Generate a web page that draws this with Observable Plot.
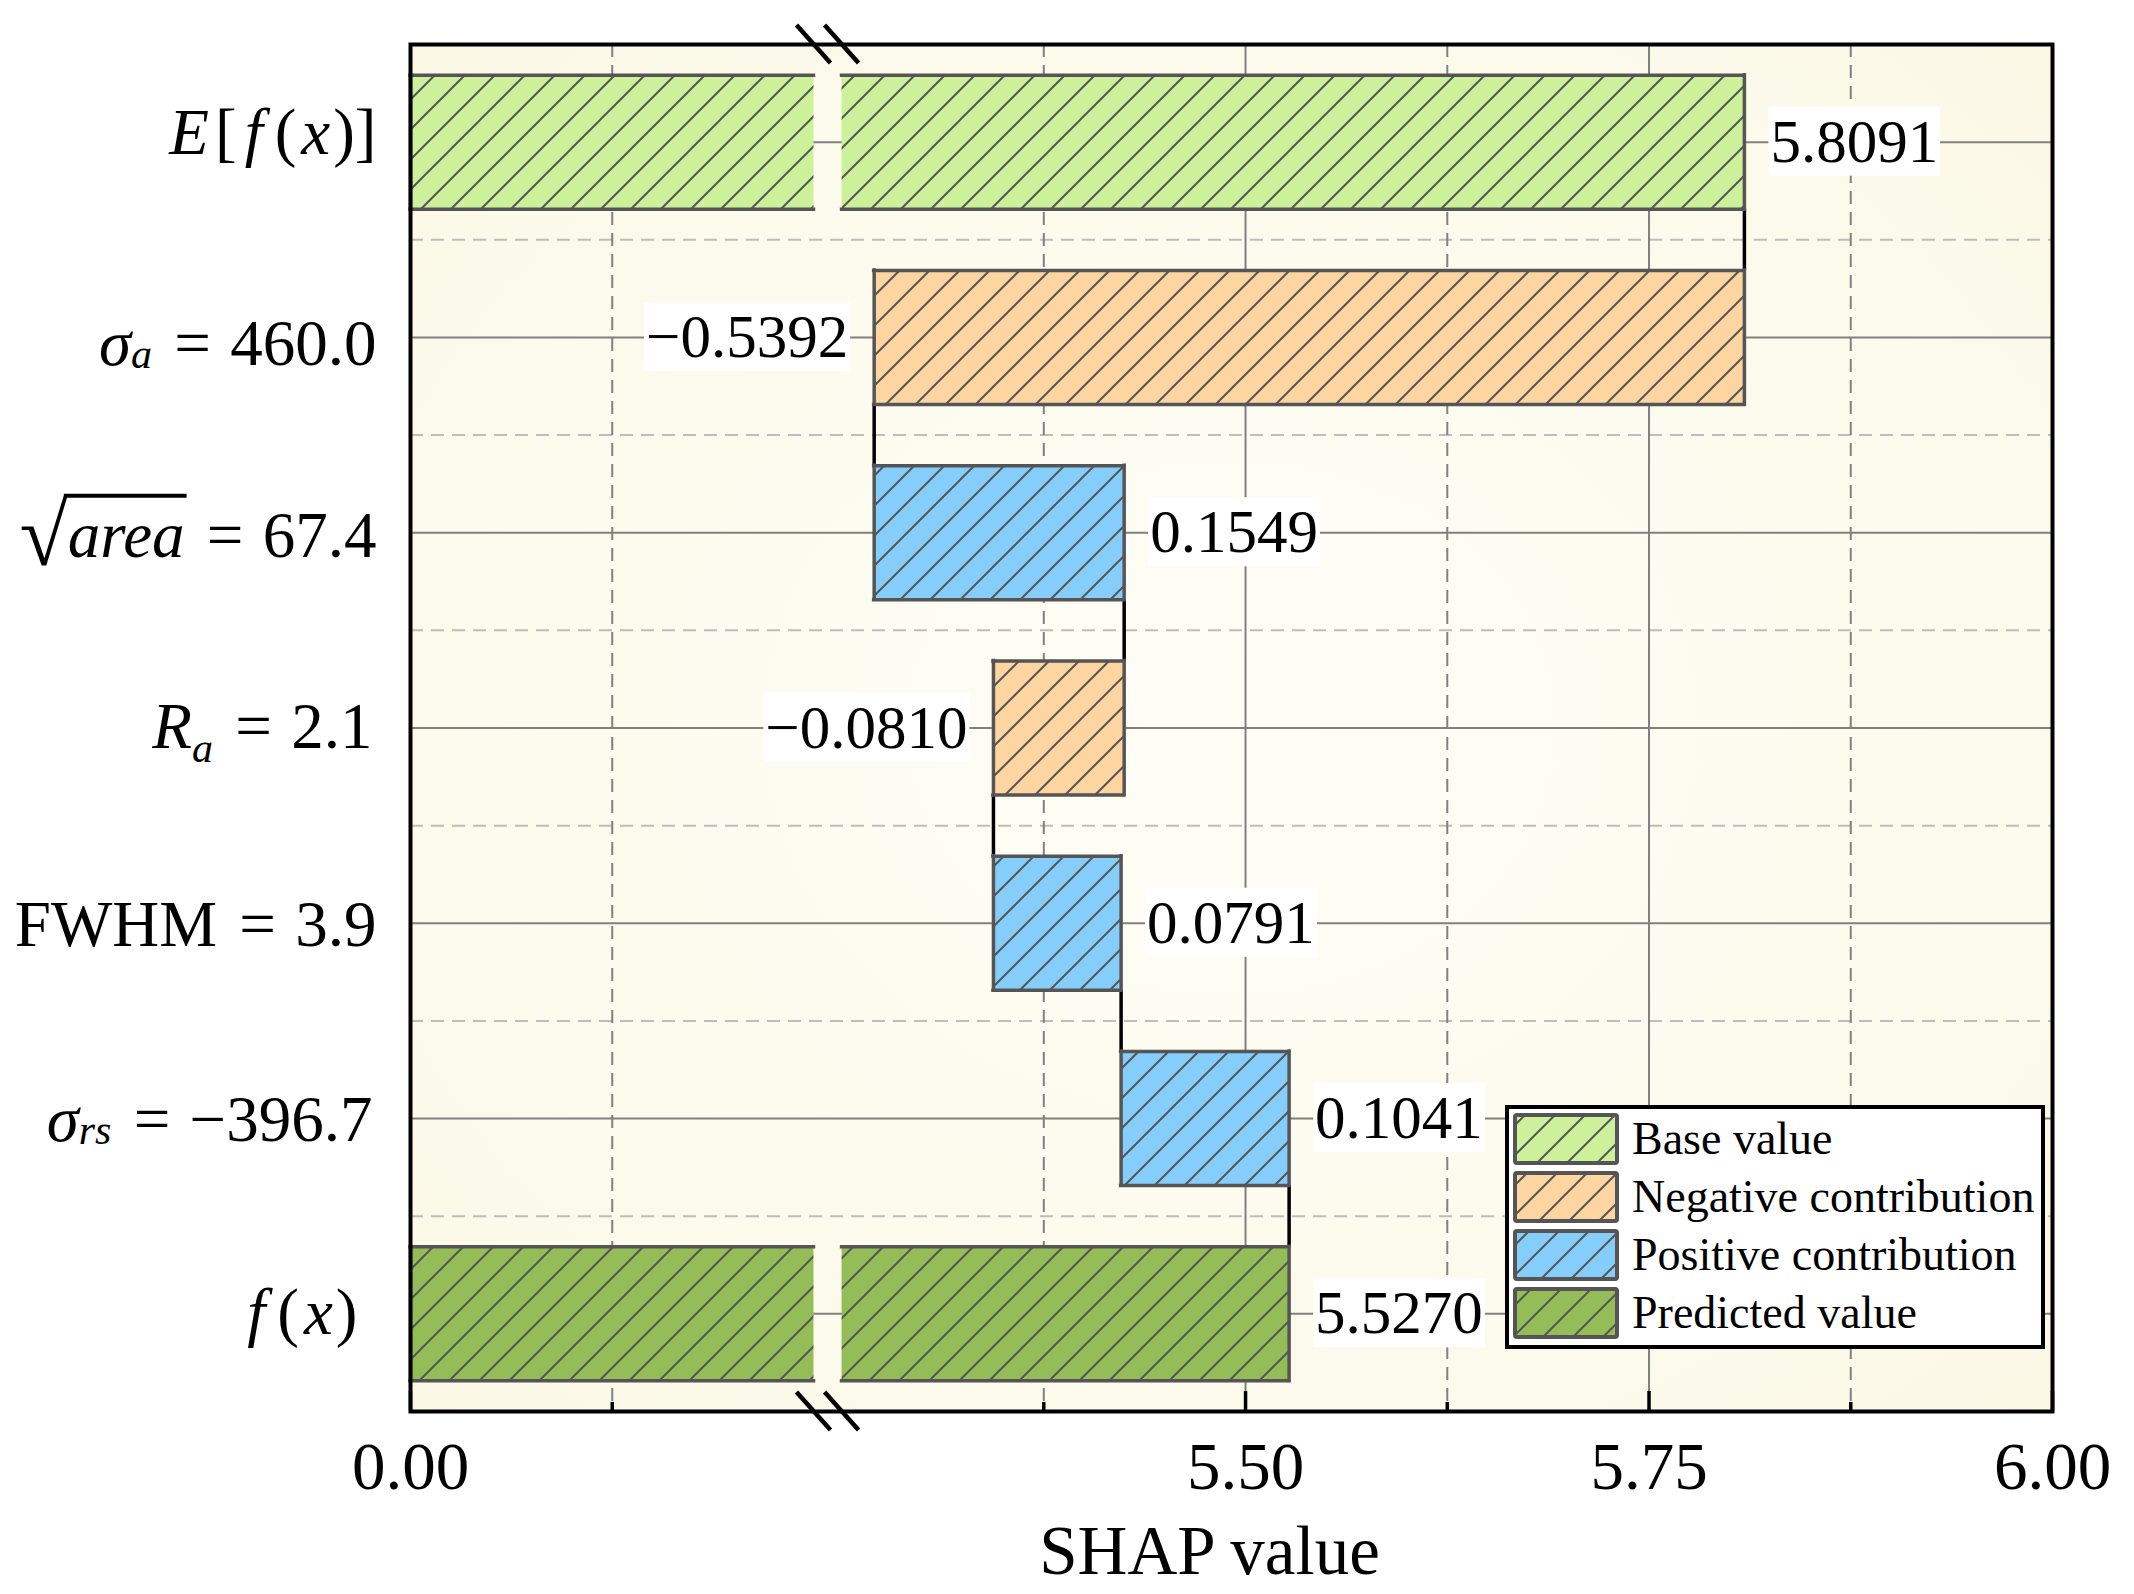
<!DOCTYPE html>
<html><head><meta charset="utf-8">
<script src="https://cdn.jsdelivr.net/npm/d3@7"></script>
<script src="https://cdn.jsdelivr.net/npm/@observablehq/plot@0.6"></script>
<style>
html,body{margin:0;padding:0;background:#fff;}
#chart{width:2134px;height:1594px;}
</style></head><body><div id="chart"></div>
<script>
// ---------------- data ----------------
const features = ["E[f(x)]", "σa = 460.0", "√area = 67.4", "Ra = 2.1", "FWHM = 3.9", "σrs = −396.7", "f(x)"];
const shapValues = [5.8091, -0.5392, 0.1549, -0.0810, 0.0791, 0.1041, 5.5270];
const barKinds = ["base", "neg", "pos", "neg", "pos", "pos", "pred"];
const legendLabels = ["Base value", "Negative contribution", "Positive contribution", "Predicted value"];
const legendKinds = ["base", "neg", "pos", "pred"];
const kindColors = {base: "#cdf19b", neg: "#fdd5a0", pos: "#85cefc", pred: "#94bd58"};
const xMajorTicks = [0, 5.50, 5.75, 6.00];
const xMinorTicks = [0.125, 5.375, 5.625, 5.875];
const xLeftRange = [0, 0.25];
const xRightRange = [5.25, 6.00];
const xLabel = "SHAP value";
// rich-text pieces of the feature labels (i = italic, r = roman, s = subscript, s2 = low subscript, rad = radical, ov = overlined italic)
const featureLabelParts = [
  [["E", "i"], ["[", "r"], ["f", "i"], ["(", "r"], ["x", "i"], [")]", "r"]],
  [["σ", "i"], ["a", "s"], [" = 460.0", "r"]],
  [["√", "rad"], ["area", "ov"], [" = 67.4", "r"]],
  [["R", "i"], ["a", "s2"], [" = 2.1", "r"]],
  [["FWHM = 3.9", "r"]],
  [["σ", "i"], ["rs", "s"], [" = −396.7", "r"]],
  [["f", "i"], ["(", "r"], ["x", "i"], [")", "r"]]
];

// ---------------- layout constants ----------------
const FONT = "'Liberation Serif','Times New Roman',serif";
const W = 2134, H = 1594, mL = 410, mR = 82, mT = 44, mB = 183;
const frameH = H - mT - mB;
const HALF = 0.343;            // half bar thickness (band units)
const GAP = 0.0174;            // width of the axis break (display units)
const labelBaselineShift = [12, 28, 24, 20, 23, 22, 20];
const labelRightShift = [0, 0, 0, -4, 0, -4, -19];
const mathSpacing = {"[": 6, "f": 8, "(": 12, "x": 5, ")": 3, ")]": 3};

// broken axis: left part [0,0.25] is placed just before the right part [5.25,6]
const leftOffset = xRightRange[0] - GAP - xLeftRange[1];
const toX = v => (v <= xLeftRange[1] ? leftOffset + v : v);

// ---------------- derived tables ----------------
const rows = [];
let running = 0;
features.forEach((name, i) => {
  const v = shapValues[i], kind = barKinds[i];
  let start, end;
  if (kind === "base" || kind === "pred") { start = 0; end = v; }
  else { start = running; end = running + v; }
  if (kind !== "pred") running = end;
  const label = (v < 0 ? "−" : "") + Math.abs(v).toFixed(4);
  rows.push({i, name, v, kind, start, end, lo: Math.min(start, end), hi: Math.max(start, end), label});
});

const pieces = [];
for (const r of rows) {
  if (r.lo === 0 && r.hi > xRightRange[0]) {
    pieces.push({i: r.i, kind: r.kind, a: r.lo, b: xLeftRange[1], leftEdge: true, rightEdge: false});
    pieces.push({i: r.i, kind: r.kind, a: xRightRange[0], b: r.hi, leftEdge: false, rightEdge: true});
  } else {
    pieces.push({i: r.i, kind: r.kind, a: r.lo, b: r.hi, leftEdge: true, rightEdge: true});
  }
}
const vEdges = [];
for (const p of pieces) {
  if (p.leftEdge) vEdges.push({i: p.i, x: p.a});
  if (p.rightEdge) vEdges.push({i: p.i, x: p.b});
}
const connectors = rows.slice(0, -1).map(r => ({i: r.i, x: r.end}));

const posLabels = rows.filter(r => r.v >= 0);
const negLabels = rows.filter(r => r.v < 0);

const edgeStyle = {stroke: "#555555", strokeWidth: 3.5, strokeLinecap: "square"};

const plot = Plot.plot({
  width: W, height: H,
  marginLeft: mL, marginRight: mR, marginTop: mT, marginBottom: mB,
  x: {domain: [toX(0), xRightRange[1]], axis: null},
  y: {domain: [-0.5, features.length - 0.5], reverse: true, axis: null},
  color: {type: "identity"},
  style: {fontFamily: FONT, fontSize: "66px", background: "white", color: "black"},
  marks: [
    Plot.frame({fill: "url(#bgGrad)"}),
    // grid
    Plot.ruleY(d3.range(features.length), {stroke: "#808080", strokeWidth: 2}),
    Plot.ruleY(d3.range(features.length - 1).map(i => i + 0.5), {stroke: "#bdbdbd", strokeWidth: 2, strokeDasharray: "13,8"}),
    Plot.ruleX(xMajorTicks.slice(1, -1), {x: toX, stroke: "#808080", strokeWidth: 2}),
    Plot.ruleX(xMinorTicks, {x: toX, stroke: "#808080", strokeWidth: 2, strokeDasharray: "13,8"}),
    // waterfall connectors
    Plot.ruleX(connectors, {x: d => toX(d.x), y1: d => d.i + HALF, y2: d => d.i + 1 - HALF, stroke: "black", strokeWidth: 3.5}),
    // bars
    Plot.rect(pieces, {x1: d => toX(d.a), x2: d => toX(d.b), y1: d => d.i - HALF, y2: d => d.i + HALF, fill: d => `url(#hatch-${d.kind})`}),
    Plot.ruleY(pieces, {y: d => d.i - HALF, x1: d => toX(d.a), x2: d => toX(d.b), ...edgeStyle}),
    Plot.ruleY(pieces, {y: d => d.i + HALF, x1: d => toX(d.a), x2: d => toX(d.b), ...edgeStyle}),
    Plot.ruleX(vEdges, {x: d => toX(d.x), y1: d => d.i - HALF, y2: d => d.i + HALF, ...edgeStyle}),
    // value labels
    Plot.text(posLabels, {x: d => toX(d.hi), y: "i", text: "label", textAnchor: "start", dx: 26, fontSize: 61, fontFamily: FONT}),
    Plot.text(negLabels, {x: d => toX(d.lo), y: "i", text: "label", textAnchor: "end", dx: -26, fontSize: 61, fontFamily: FONT}),
    // inward ticks
    Plot.ruleX(xMajorTicks, {x: toX, insetTop: frameH - 20, stroke: "black", strokeWidth: 3.5}),
    Plot.ruleX(xMinorTicks, {x: toX, insetTop: frameH - 9, stroke: "black", strokeWidth: 3.5}),
    Plot.frame({stroke: "black", strokeWidth: 4}),
    // tick labels & axis label
    Plot.text(xMajorTicks, {x: toX, frameAnchor: "bottom", lineAnchor: "bottom", dy: 77, text: v => v.toFixed(2), fontSize: 67, fontFamily: FONT}),
    Plot.text([xLabel], {frameAnchor: "bottom", lineAnchor: "bottom", dy: 162, dx: -22, fontSize: 69, fontFamily: FONT}),
    // feature labels
    Plot.text(rows, {y: "i", text: "name", frameAnchor: "left", textAnchor: "end", lineAnchor: "bottom", dx: -34, fontSize: 65, fontFamily: FONT})
  ]
});
document.getElementById("chart").appendChild(plot);

const svg = d3.select(plot);
const NS = "http://www.w3.org/2000/svg";
const defs = svg.insert("defs", ":first-child");
for (const k of Object.keys(kindColors)) {
  const p = defs.append("pattern").attr("id", `hatch-${k}`).attr("patternUnits", "userSpaceOnUse").attr("width", 30).attr("height", 30);
  p.append("rect").attr("width", 30).attr("height", 30).attr("fill", kindColors[k]);
  p.append("path").attr("d", "M-7.5,7.5L7.5,-7.5M0,30L30,0M22.5,37.5L37.5,22.5").attr("stroke", "#555555").attr("stroke-width", 2);
}
const grad = defs.append("radialGradient").attr("id", "bgGrad").attr("cx", "50%").attr("cy", "50%").attr("r", "70%");
grad.append("stop").attr("offset", "0%").attr("stop-color", "#fefef7");
grad.append("stop").attr("offset", "100%").attr("stop-color", "#fbf8e6");

// white boxes behind value labels
const labelSet = new Set(rows.map(r => r.label));
svg.selectAll("text").each(function() {
  if (!labelSet.has(this.textContent)) return;
  const b = this.getBBox();
  const rect = document.createElementNS(NS, "rect");
  rect.setAttribute("x", b.x - 2); rect.setAttribute("y", b.y - 1);
  rect.setAttribute("width", b.width + 4); rect.setAttribute("height", b.height + 2);
  rect.setAttribute("fill", "white");
  if (this.getAttribute("transform")) rect.setAttribute("transform", this.getAttribute("transform"));
  this.parentNode.insertBefore(rect, this);
});

// rich feature labels
const featIndex = new Map(features.map((f, i) => [f, i]));
svg.selectAll("text").each(function() {
  const idx = featIndex.get(this.textContent);
  if (idx === undefined) return;
  const parts = featureLabelParts[idx];
  const shift = labelBaselineShift[idx];
  this.textContent = "";
  this.setAttribute("font-family", FONT);
  this.removeAttribute("dy");
  this.setAttribute("dx", labelRightShift[idx]);
  let cur = 0;
  const add = (s, attrs, dx) => {
    const t = document.createElementNS(NS, "tspan");
    t.textContent = s;
    for (const [k, v] of Object.entries(attrs)) t.setAttribute(k, v);
    if (dx) t.setAttribute("dx", dx);
    this.appendChild(t);
    return t;
  };
  parts.forEach(([s, st], j) => {
    let local = 0;
    const attrs = {};
    if (st === "i" || st === "ov") attrs["font-style"] = "italic";
    if (st === "s") { attrs["font-style"] = "italic"; attrs["font-size"] = "42"; local = 3; }
    if (st === "s2") { attrs["font-style"] = "italic"; attrs["font-size"] = "42"; local = 14; }
    if (st === "rad") { attrs["font-size"] = "88"; local = 8; }
    const want = shift + local;
    if (want !== cur) attrs["dy"] = want - cur;
    cur = want;
    const sp = j > 0 && parts.length > 3 && mathSpacing[s] ? mathSpacing[s] : 0;
    if (st === "r" && s.includes("=")) {
      const [l, r] = s.split("=");
      if (l) add(l, attrs);
      add("=", l ? {} : attrs, 6);
      add(r, {}, 3);
    } else {
      add(s, attrs, sp);
    }
  });
  if (parts.some(p => p[1] === "ov")) {
    const e0 = this.getExtentOfChar(0), e1 = this.getExtentOfChar(1), e4 = this.getExtentOfChar(4);
    const base = e1.y + e1.height * (0.891 / 1.107);
    const ln = document.createElementNS(NS, "line");
    ln.setAttribute("x1", e0.x + e0.width - 4); ln.setAttribute("x2", e4.x + e4.width + 2);
    ln.setAttribute("y1", base - 61); ln.setAttribute("y2", base - 61);
    ln.setAttribute("stroke", "black"); ln.setAttribute("stroke-width", 4);
    if (this.getAttribute("transform")) ln.setAttribute("transform", this.getAttribute("transform"));
    this.parentNode.appendChild(ln);
  }
});

// axis-break marks
const xs = plot.scale("x");
const breakXs = [toX(xLeftRange[1]), toX(xRightRange[0])].map(v => xs.apply(v));
for (const cx of breakXs) for (const cy of [mT, H - mB]) {
  svg.append("line").attr("x1", cx - 17).attr("y1", cy - 19).attr("x2", cx + 17).attr("y2", cy + 19)
    .attr("stroke", "black").attr("stroke-width", 4.5);
}

// legend
const lg = svg.append("g").attr("font-family", FONT).attr("text-anchor", "start");
lg.append("rect").attr("x", 1507).attr("y", 1107).attr("width", 536).attr("height", 240)
  .attr("fill", "white").attr("stroke", "black").attr("stroke-width", 4);
legendLabels.forEach((lab, k) => {
  const top = 1115 + k * 58;
  lg.append("rect").attr("x", 1515).attr("y", top).attr("width", 102).attr("height", 48).attr("rx", 2)
    .attr("fill", `url(#hatch-${legendKinds[k]})`).attr("stroke", "#555555").attr("stroke-width", 4);
  lg.append("text").attr("x", 1632).attr("y", top + 39).attr("font-size", 46).attr("text-anchor", "start").text(lab);
});
</script>
</body></html>
